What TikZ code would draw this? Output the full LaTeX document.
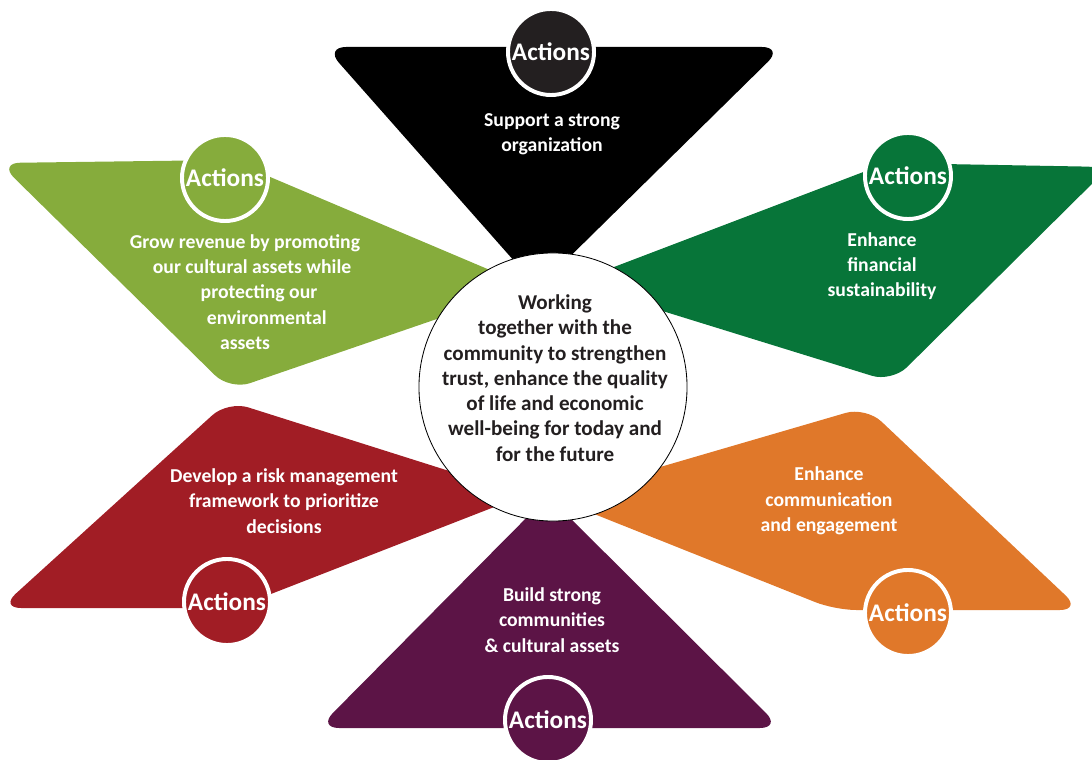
\documentclass[tikz,border=0pt]{standalone}
\usepackage{fontspec}
\setmainfont{Carlito}
\usepackage{tikz}

\definecolor{leafgreen}{HTML}{86AC3C}
\definecolor{darkgreen}{HTML}{077539}
\definecolor{riskred}{HTML}{A11D25}
\definecolor{commorange}{HTML}{E0782A}
\definecolor{plum}{HTML}{5C1446}
\definecolor{inkgrey}{HTML}{231F20}

\tikzset{
	petal/.style = {rounded corners = 15pt},
	actions/.style = {circle, draw = white, line width = 2.8pt, minimum size = 2.15cm, inner sep = 0pt,
		text = white, font = \bfseries\fontsize{18}{20}\selectfont},
	goal/.style = {text = white, align = center, font = \bfseries\fontsize{14}{18}\selectfont},
	hub/.style = {circle, fill = white, draw = black, line width = 0.6pt, minimum size = 6.7cm},
	hubtext/.style = {text = inkgrey, align = center, font = \bfseries\fontsize{15}{18}\selectfont},
}

\begin{document}
\begin{tikzpicture}[x = 0.025cm, y = -0.025cm]
		\useasboundingbox (0,0) rectangle (1092,760);
		\clip (0,0) rectangle (1092,760);

		\fill [petal, black] (325,47) -- (783,47) -- (538,288) -- cycle;
		\fill [petal, leafgreen] (-1,163) -- (230,160) -- (530,287) -- (230,390) -- cycle;
		\fill [petal, darkgreen] (887,163) -- (1109,167) -- (892,382) -- (572,283) -- cycle;
		\fill [petal, riskred] (228,401) -- (525,495) -- (235,608) -- (0,608) -- cycle;
		\fill [petal, commorange] (866,407) -- (1081,610) -- (835,610) -- (554,498) -- cycle;
		\fill [petal, plum] (548,496) -- (781,728) -- (318,728) -- cycle;

		\node [hub] (hub) at (553,387) {};
		\node [hubtext] (vision) at (555,378) {Working\\together with the\\community to strengthen\\trust, enhance the quality\\of life and economic\\well-being for today and\\for the future};

		\node [goal] (strong) at (552,134) {Support a strong\\organization};
		\node [goal] (revenue) at (245,292) {Grow revenue by promoting\\\hspace*{10pt}our cultural assets while\\\hspace*{20pt}protecting our\\\hspace*{31pt}environmental\\assets};
		\node [goal] (finance) at (882,266) {Enhance\\financial\\sustainability};
		\node [goal] (risk) at (284,501) {Develop a risk management\\framework to prioritize\\decisions};
		\node [goal] (comms) at (829,501) {Enhance\\communication\\and engagement};
		\node [goal] (build) at (552,620) {Build strong\\communities\\\& cultural assets};

		\node [actions, fill = inkgrey] (act strong) at (551,52) {Actions};
		\node [actions, fill = leafgreen] (act revenue) at (225,178) {Actions};
		\node [actions, fill = darkgreen] (act finance) at (908,176) {Actions};
		\node [actions, fill = riskred] (act risk) at (227,602) {Actions};
		\node [actions, fill = commorange] (act comms) at (908,613) {Actions};
		\node [actions, fill = plum] (act build) at (548,720) {Actions};
	\end{tikzpicture}
\end{document}
